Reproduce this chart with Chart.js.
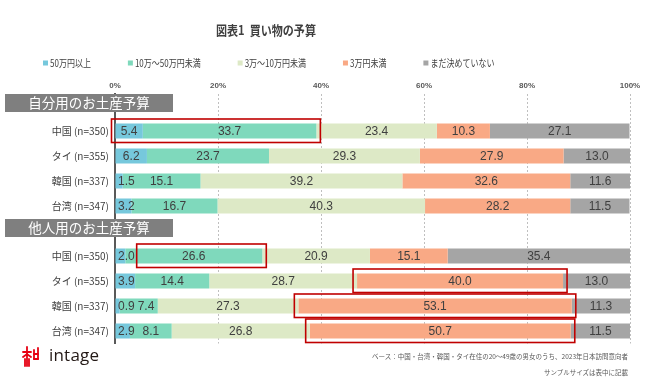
<!DOCTYPE html>
<html><head><meta charset="utf-8">
<script src="https://cdn.jsdelivr.net/npm/chart.js@4"></script>
<style>
html,body{margin:0;padding:0;background:#fff;}
#wrap{position:relative;width:650px;height:381px;overflow:hidden;font-family:"Noto Sans CJK JP","Noto Sans",sans-serif;}
#c{position:absolute;left:0;top:0;}
#title{position:absolute;left:166px;width:200px;top:21px;text-align:center;font-weight:bold;font-size:13px;line-height:18px;color:#404040;transform:scaleX(0.85);white-space:nowrap;}
.note{position:absolute;right:22px;font-size:6.5px;line-height:9px;color:#595959;white-space:nowrap;}
#logo{position:absolute;left:22px;top:346px;height:22px;}
#logotext{position:absolute;left:49px;top:344px;font-family:"Open Sans",sans-serif;font-size:17px;line-height:22px;color:#231815;letter-spacing:0.2px;}
</style></head>
<body>
<div id="wrap">
<canvas id="c" width="650" height="381"></canvas>
<div id="title">図表1&nbsp;&nbsp;買い物の予算</div>
<div class="note" style="top:352px;">ベース：中国・台湾・韓国・タイ在住の20～49歳の男女のうち、2023年日本訪問意向者</div>
<div class="note" style="top:368px;">サンプルサイズは表中に記載</div>
<svg id="logo" width="18" height="22" viewBox="0 0 18 22">
  <g stroke="#E60012" stroke-width="1.8" fill="none" stroke-linecap="round">
    <line x1="5" y1="1" x2="5" y2="20"/>
    <line x1="1" y1="6" x2="9" y2="6"/>
    <path d="M1 11 L5 8 L9 11"/>
    <path d="M3 20 L3 13 M7 20 L7 13"/>
    <line x1="12" y1="4" x2="12" y2="13"/>
    <line x1="16" y1="2" x2="16" y2="13"/>
    <line x1="12" y1="13" x2="16" y2="13"/>
    <line x1="12" y1="8" x2="16" y2="8"/>
  </g>
</svg>
<div id="logotext">intage</div>
</div>
<script>
// ---- data ----
const groupTitles = ['自分用のお土産予算', '他人用のお土産予算'];
const countries = ['中国 (n=350)', 'タイ (n=355)', '韓国 (n=337)', '台湾 (n=347)'];
const seriesNames = ['50万円以上', '10万～50万円未満', '3万～10万円未満', '3万円未満', 'まだ決めていない'];
const seriesColors = ['#76C8DC', '#7FD9BC', '#DDE9C6', '#F9A985', '#A5A5A5'];
const xTickStep = 20;

// 自分用 (self) values per series, order = countries
const over500kSelf   = [5.4, 6.2, 1.5, 3.2];
const k100to500Self  = [33.7, 23.7, 15.1, 16.7];
const k30to100Self   = [23.4, 29.3, 39.2, 40.3];
const under30kSelf   = [10.3, 27.9, 32.6, 28.2];
const undecidedSelf  = [27.1, 13.0, 11.6, 11.5];
// 他人用 (others) values per series
const over500kOther  = [2.0, 3.9, 0.9, 2.9];
const k100to500Other = [26.6, 14.4, 7.4, 8.1];
const k30to100Other  = [20.9, 28.7, 27.3, 26.8];
const under30kOther  = [15.1, 40.0, 53.1, 50.7];
const undecidedOther = [35.4, 13.0, 11.3, 11.5];

// highlighted segments (group index, country index, first series, last series)
const highlights = [
  {group: 0, country: 0, first: 0, last: 1},
  {group: 1, country: 0, first: 1, last: 1},
  {group: 1, country: 1, first: 3, last: 3},
  {group: 1, country: 2, first: 3, last: 3},
  {group: 1, country: 3, first: 3, last: 3}
];

// ---- build table ----
const selfSeries = [over500kSelf, k100to500Self, k30to100Self, under30kSelf, undecidedSelf];
const otherSeries = [over500kOther, k100to500Other, k30to100Other, under30kOther, undecidedOther];
const labels = [groupTitles[0], ...countries, groupTitles[1], ...countries];
const headerRows = [0, countries.length + 1];
const rowIndex = (g, c) => headerRows[g] + 1 + c;
const datasets = seriesNames.map((name, i) => ({
  label: name,
  data: [null, ...selfSeries[i], null, ...otherSeries[i]],
  backgroundColor: seriesColors[i],
  borderWidth: 0,
  barPercentage: 0.6,
  categoryPercentage: 1.0
}));

const FONT_JP = '"Noto Sans CJK JP", "Noto Sans", sans-serif';
const FONT_NUM = '"Liberation Sans", Arial, sans-serif';

const overlay = {
  id: 'overlay',
  afterDatasetsDraw(chart) {
    const ctx = chart.ctx;
    const ys = chart.scales.y;
    const area = chart.chartArea;
    const labelSpans = {}; // row -> per dataset [left,right]
    // data labels
    ctx.save();
    ctx.font = '12px ' + FONT_NUM;
    ctx.fillStyle = '#404040';
    ctx.textAlign = 'center';
    ctx.textBaseline = 'middle';
    for (let r = 0; r < labels.length; r++) {
      if (headerRows.includes(r)) continue;
      let prevRight = -Infinity;
      labelSpans[r] = [];
      chart.data.datasets.forEach((ds, di) => {
        const v = ds.data[r];
        if (v == null) return;
        const el = chart.getDatasetMeta(di).data[r];
        const txt = v.toFixed(1);
        const w = ctx.measureText(txt).width;
        let cx = (el.x + el.base) / 2;
        cx = Math.max(cx, area.left + 3 + w / 2, prevRight + 3 + w / 2);
        ctx.fillText(txt, cx, el.y + 0.5);
        prevRight = cx + w / 2;
        labelSpans[r][di] = [cx - w / 2, cx + w / 2];
      });
    }
    ctx.restore();
    // highlight boxes
    ctx.save();
    ctx.strokeStyle = '#C00000';
    ctx.lineWidth = 1.6;
    highlights.forEach(h => {
      const r = rowIndex(h.group, h.country);
      const a = chart.getDatasetMeta(h.first).data[r];
      const b = chart.getDatasetMeta(h.last).data[r];
      let left = Math.min(a.base, a.x) - 4;
      if (h.first > 0 && labelSpans[r][h.first - 1]) left = Math.max(left, labelSpans[r][h.first - 1][1] + 2);
      const right = Math.max(b.base, b.x) + 4;
      ctx.strokeRect(left, a.y - 12, right - left, 23.5);
    });
    ctx.restore();
    // group headers
    ctx.save();
    headerRows.forEach((r, g) => {
      const y = ys.getPixelForValue(r);
      ctx.fillStyle = '#7F7F7F';
      ctx.fillRect(5, y - 12, 168, 18);
      ctx.fillStyle = '#FFFFFF';
      ctx.font = '13.5px ' + FONT_JP;
      ctx.textAlign = 'center';
      ctx.textBaseline = 'middle';
      ctx.fillText(groupTitles[g], 89, y - 3);
    });
    ctx.restore();
    // legend
    ctx.save();
    const ly = 63;
    let lx = 43;
    const sx = 0.8;
    ctx.textBaseline = 'middle';
    ctx.textAlign = 'left';
    ctx.font = '10px ' + FONT_JP;
    chart.data.datasets.forEach(ds => {
      ctx.fillStyle = ds.backgroundColor;
      ctx.fillRect(lx, ly - 2.5, 5, 5);
      const tx = lx + 7;
      const w = ctx.measureText(ds.label).width * sx;
      ctx.save();
      ctx.translate(tx, ly);
      ctx.scale(sx, 1);
      ctx.fillStyle = '#404040';
      ctx.fillText(ds.label, 0, 0);
      ctx.restore();
      lx = tx + w + 37;
    });
    ctx.restore();
  }
};

new Chart(document.getElementById('c'), {
  type: 'bar',
  data: {labels, datasets},
  options: {
    indexAxis: 'y',
    responsive: false,
    animation: false,
    layout: {padding: {left: 0, right: 20, top: 81.5, bottom: 37.5}},
    plugins: {legend: {display: false}, tooltip: {enabled: false}, title: {display: false}},
    scales: {
      x: {
        position: 'top', stacked: true, min: 0, max: 100,
        ticks: {stepSize: xTickStep, callback: v => v + '%', font: {size: 8, weight: 'bold', family: FONT_NUM}, color: '#595959', padding: 3, maxRotation: 0, autoSkip: false},
        grid: {color: '#BFBFBF', drawTicks: false, lineWidth: 1},
        border: {display: false, dash: [2, 2]},
        afterFit: s => { s.height = 12; }
      },
      y: {
        stacked: true,
        ticks: {
          autoSkip: false, padding: 6, color: '#404040', font: {size: 10, family: FONT_JP},
          callback: function(v, i) { return headerRows.includes(i) ? '' : this.getLabelForValue(v); }
        },
        grid: {display: false, drawTicks: false},
        border: {display: true, color: '#595959', width: 2},
        afterFit: s => { s.width = 115; }
      }
    }
  },
  plugins: [overlay]
});
</script>
</body></html>
